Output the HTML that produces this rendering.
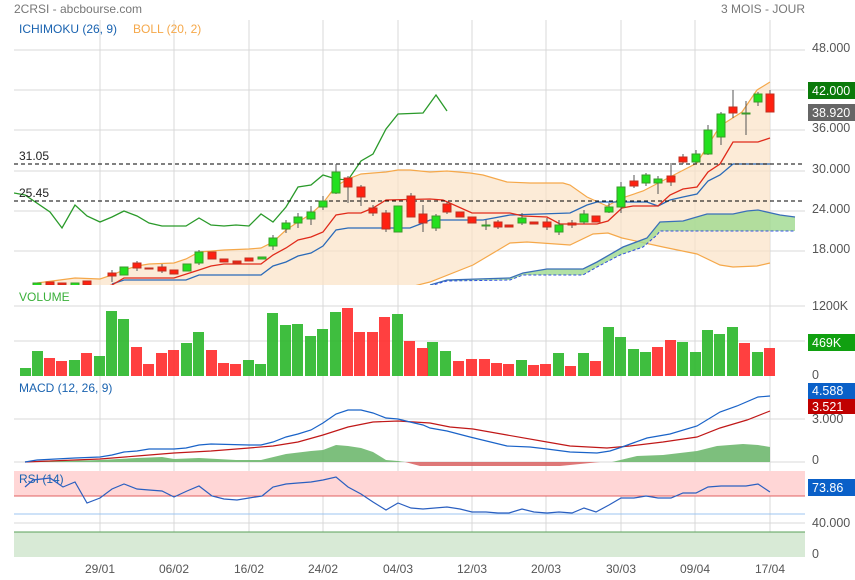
<!DOCTYPE html>
<html><head><meta charset="utf-8"><style>
body{margin:0;background:#fff;}
svg{display:block;font-family:"Liberation Sans",Arial,sans-serif;}
</style></head><body>
<svg width="855" height="580" viewBox="0 0 855 580" xmlns="http://www.w3.org/2000/svg">
<defs>
<clipPath id="cm"><rect x="14" y="20" width="792" height="265"/></clipPath>
</defs>
<rect width="855" height="580" fill="#fff"/>
<text x="14" y="13" font-size="12" fill="#777">2CRSI - abcbourse.com</text>
<text x="805" y="13" font-size="12" fill="#777" text-anchor="end">3 MOIS - JOUR</text>

<!-- grid -->
<g stroke="#d8d8d8" stroke-width="1">
<line x1="14" y1="50" x2="805" y2="50"/><line x1="14" y1="90" x2="805" y2="90"/><line x1="14" y1="130" x2="805" y2="130"/><line x1="14" y1="171" x2="805" y2="171"/><line x1="14" y1="211" x2="805" y2="211"/><line x1="14" y1="251" x2="805" y2="251"/>
<line x1="14" y1="306" x2="805" y2="306"/><line x1="14" y1="341" x2="805" y2="341"/>
<line x1="14" y1="419" x2="805" y2="419"/><line x1="14" y1="462" x2="805" y2="462"/>
<line x1="14" y1="488" x2="805" y2="488"/><line x1="14" y1="523" x2="805" y2="523"/>
<line x1="100" y1="20" x2="100" y2="557"/><line x1="174" y1="20" x2="174" y2="557"/><line x1="249" y1="20" x2="249" y2="557"/><line x1="323" y1="20" x2="323" y2="557"/><line x1="398" y1="20" x2="398" y2="557"/><line x1="472" y1="20" x2="472" y2="557"/><line x1="546" y1="20" x2="546" y2="557"/><line x1="621" y1="20" x2="621" y2="557"/><line x1="695" y1="20" x2="695" y2="557"/><line x1="770" y1="20" x2="770" y2="557"/>
</g>

<g clip-path="url(#cm)">
<!-- bollinger fill -->
<polygon fill="#fbe3c6" fill-opacity="0.7" points="37,283 75,278 100,279 112,275 124,270 137,266 149,264 174,263 186,259 199,252 224,250 249,249 261,248 273,242 286,230 298,222 311,214 323,203 336,186 348,179 361,174 373,173 386,172 398,170 410,170 430,172 447,171 470,173 483,175 507,182 530,183 563,183 570,185 587,197 607,206 622,198 643,191 670,177 697,163 720,126 742,112 757,90 770,82 770,263 757,266 733,267 720,265 697,254 663,247 622,238 608,233 593,234 570,245 527,242 510,243 473,265 430,282 410,287 37,287"/>
<polyline fill="none" stroke="#f5a84a" stroke-width="1.2" points="37,283 75,278 100,279 112,275 124,270 137,266 149,264 174,263 186,259 199,252 224,250 249,249 261,248 273,242 286,230 298,222 311,214 323,203 336,186 348,179 361,174 373,173 386,172 398,170 410,170 430,172 447,171 470,173 483,175 507,182 530,183 563,183 570,185 587,197 607,206 622,198 643,191 670,177 697,163 720,126 742,112 757,90 770,82"/>
<polyline fill="none" stroke="#f5a84a" stroke-width="1.2" points="410,287 430,282 473,265 510,243 527,242 570,245 593,234 608,233 622,238 663,247 697,254 720,265 733,267 757,266 770,263"/>
<!-- cloud -->
<polygon fill="#9fd98f" fill-opacity="0.8" points="430,285 447,280 510,278 523,273 547,269 583,269 597,262 623,247 647,238 660,222 683,221 707,214 733,214 747,211 758,210 780,215 795,217 795,231 660,231 657,235 643,247 620,255 597,267 583,275 523,275 510,280 447,281"/>
<polyline fill="none" stroke="#3a6fb8" stroke-width="1.3" points="430,285 447,280 510,278 523,273 547,269 583,269 597,262 623,247 647,238 660,222 683,221 707,214 733,214 747,211 758,210 780,215 795,217"/>
<polyline fill="none" stroke="#3050e0" stroke-width="1" stroke-dasharray="3,2" points="430,286 447,281 510,280 523,275 583,275 597,267 620,255 643,247 657,235 660,231 795,231"/>
<!-- kijun blue -->
<polyline fill="none" stroke="#2a6ab8" stroke-width="1.3" points="112,284 124,280 186,280 199,275 261,275 273,266 286,262 298,256 311,253 323,246 336,230 348,228 410,228 423,223 430,220 483,220 510,215 570,213 587,205 597,202 647,202 658,206 670,200 683,197 697,194 708,181 720,175 733,164 770,164"/>
<!-- tenkan red -->
<polyline fill="none" stroke="#e02a1a" stroke-width="1.3" points="105,287 112,285 124,278 174,278 199,270 211,266 224,264 261,264 273,255 286,248 298,240 311,237 323,232 336,215 348,213 361,213 373,208 386,200 430,199 443,200 472,213 510,213 523,216 547,217 560,224 597,224 608,221 622,208 633,206 658,206 670,195 683,189 697,187 708,172 720,164 733,142 758,142 770,138"/>
<!-- chikou -->
<polyline fill="none" stroke="#2a9a2a" stroke-width="1.3" points="14,193 25,195 50,212 62,228 75,205 87,216 100,222 112,217 124,211 137,216 149,223 162,226 186,226 199,218 211,225 224,226 236,225 249,226 261,214 273,222 286,207 298,187 311,185 323,175 336,179 348,180 361,161 373,154 386,129 398,114 423,113 436,95 447,111"/>
<!-- dashed levels -->
<line x1="14" y1="164" x2="805" y2="164" stroke="#000" stroke-dasharray="4,3"/>
<line x1="14" y1="201" x2="805" y2="201" stroke="#000" stroke-dasharray="4,3"/>
<!-- candles -->
<g stroke-width="1">
<g stroke="#555">
<line x1="112" y1="270" x2="112" y2="282"/><line x1="137" y1="261" x2="137" y2="271"/><line x1="162" y1="264" x2="162" y2="273"/><line x1="199" y1="250" x2="199" y2="265"/><line x1="273" y1="235" x2="273" y2="250"/><line x1="286" y1="220" x2="286" y2="233"/><line x1="298" y1="213" x2="298" y2="228"/><line x1="311" y1="206" x2="311" y2="225"/><line x1="323" y1="196" x2="323" y2="210"/><line x1="336" y1="164" x2="336" y2="194"/><line x1="348" y1="176" x2="348" y2="203"/><line x1="361" y1="185" x2="361" y2="206"/><line x1="373" y1="205" x2="373" y2="216"/><line x1="386" y1="210" x2="386" y2="232"/><line x1="411" y1="193" x2="411" y2="217"/><line x1="423" y1="205" x2="423" y2="232"/><line x1="436" y1="214" x2="436" y2="231"/><line x1="447" y1="202" x2="447" y2="214"/><line x1="486" y1="220" x2="486" y2="230"/><line x1="498" y1="220" x2="498" y2="229"/><line x1="522" y1="213" x2="522" y2="225"/><line x1="547" y1="218" x2="547" y2="230"/><line x1="559" y1="220" x2="559" y2="235"/><line x1="572" y1="220" x2="572" y2="228"/><line x1="584" y1="210" x2="584" y2="224"/><line x1="609" y1="203" x2="609" y2="213"/><line x1="621" y1="182" x2="621" y2="213"/><line x1="634" y1="175" x2="634" y2="188"/><line x1="646" y1="173" x2="646" y2="186"/><line x1="658" y1="176" x2="658" y2="194"/><line x1="671" y1="163" x2="671" y2="186"/><line x1="683" y1="154" x2="683" y2="164"/><line x1="696" y1="150" x2="696" y2="164"/><line x1="708" y1="125" x2="708" y2="155"/><line x1="721" y1="112" x2="721" y2="145"/><line x1="733" y1="90" x2="733" y2="118"/><line x1="746" y1="101" x2="746" y2="135"/><line x1="758" y1="92" x2="758" y2="106"/><line x1="770" y1="90" x2="770" y2="112"/>
</g>
<g fill="#22e01e" stroke="#3a9a2a">
<rect x="33" y="283" width="8" height="3"/><rect x="71" y="283" width="8" height="3"/><rect x="120" y="267" width="8" height="8"/><rect x="183" y="264" width="8" height="7"/><rect x="195" y="252" width="8" height="11"/><rect x="258" y="257" width="8" height="2"/><rect x="269" y="238" width="8" height="8"/><rect x="282" y="223" width="8" height="6"/><rect x="294" y="217" width="8" height="6"/><rect x="307" y="212" width="8" height="7"/><rect x="319" y="201" width="8" height="6"/><rect x="332" y="172" width="8" height="21"/><rect x="394" y="206" width="8" height="26"/><rect x="432" y="216" width="8" height="12"/><rect x="482" y="225" width="8" height="1"/><rect x="518" y="218" width="8" height="5"/><rect x="555" y="225" width="8" height="7"/><rect x="580" y="214" width="8" height="8"/><rect x="605" y="207" width="8" height="5"/><rect x="617" y="187" width="8" height="20"/><rect x="642" y="175" width="8" height="8"/><rect x="654" y="179" width="8" height="4"/><rect x="692" y="154" width="8" height="8"/><rect x="704" y="130" width="8" height="24"/><rect x="717" y="114" width="8" height="23"/><rect x="742" y="113" width="8" height="1"/><rect x="754" y="94" width="8" height="8"/>
</g>
<g fill="#ff2010" stroke="#c03020">
<rect x="46" y="282" width="8" height="3"/><rect x="58" y="283" width="8" height="2"/><rect x="83" y="281" width="8" height="4"/><rect x="108" y="273" width="8" height="3"/><rect x="133" y="263" width="8" height="5"/><rect x="145" y="268" width="8" height="1"/><rect x="158" y="267" width="8" height="4"/><rect x="170" y="270" width="8" height="4"/><rect x="208" y="252" width="8" height="7"/><rect x="220" y="259" width="8" height="3"/><rect x="233" y="261" width="8" height="2"/><rect x="245" y="258" width="8" height="3"/><rect x="344" y="178" width="8" height="9"/><rect x="357" y="187" width="8" height="10"/><rect x="369" y="208" width="8" height="5"/><rect x="382" y="213" width="8" height="16"/><rect x="407" y="196" width="8" height="21"/><rect x="419" y="214" width="8" height="9"/><rect x="443" y="204" width="8" height="8"/><rect x="456" y="212" width="8" height="5"/><rect x="468" y="217" width="8" height="6"/><rect x="494" y="222" width="8" height="5"/><rect x="505" y="225" width="8" height="2"/><rect x="530" y="222" width="8" height="2"/><rect x="543" y="222" width="8" height="5"/><rect x="568" y="223" width="8" height="2"/><rect x="592" y="216" width="8" height="6"/><rect x="630" y="181" width="8" height="5"/><rect x="667" y="176" width="8" height="6"/><rect x="679" y="157" width="8" height="5"/><rect x="729" y="107" width="8" height="6"/><rect x="766" y="94" width="8" height="18"/>
</g>
</g>
</g>
<text x="19" y="160" font-size="12" fill="#222">31.05</text>
<text x="19" y="197" font-size="12" fill="#222">25.45</text>
<text x="19" y="33" font-size="12" fill="#1a63b0">ICHIMOKU (26, 9)</text>
<text x="133" y="33" font-size="12" fill="#f5a84a">BOLL (20, 2)</text>

<!-- price axis -->
<g font-size="12.5" fill="#555">
<text x="812" y="52">48.000</text><text x="812" y="132">36.000</text><text x="812" y="173">30.000</text><text x="812" y="213">24.000</text><text x="812" y="253">18.000</text>
</g>
<rect x="808" y="82" width="47" height="17" fill="#0a7a0a"/><text x="812" y="95" font-size="12.5" fill="#fff">42.000</text>
<rect x="808" y="104" width="47" height="17" fill="#666"/><text x="812" y="117" font-size="12.5" fill="#fff">38.920</text>

<!-- volume -->
<text x="19" y="301" font-size="12" fill="#3ab03a">VOLUME</text>
<g fill="#2fb82f" fill-opacity="0.92">
<rect x="20" y="368" width="11" height="8"/><rect x="32" y="351" width="11" height="25"/><rect x="69" y="360" width="11" height="16"/><rect x="94" y="356" width="11" height="20"/><rect x="106" y="311" width="11" height="65"/><rect x="118" y="319" width="11" height="57"/><rect x="181" y="343" width="11" height="33"/><rect x="193" y="332" width="11" height="44"/><rect x="243" y="360" width="11" height="16"/><rect x="255" y="364" width="11" height="12"/><rect x="267" y="313" width="11" height="63"/><rect x="280" y="325" width="11" height="51"/><rect x="292" y="324" width="11" height="52"/><rect x="305" y="336" width="11" height="40"/><rect x="317" y="329" width="11" height="47"/><rect x="330" y="312" width="11" height="64"/><rect x="392" y="314" width="11" height="62"/><rect x="427" y="342" width="11" height="34"/><rect x="440" y="351" width="11" height="25"/><rect x="516" y="360" width="11" height="16"/><rect x="553" y="353" width="11" height="23"/><rect x="578" y="353" width="11" height="23"/><rect x="603" y="327" width="11" height="49"/><rect x="615" y="337" width="11" height="39"/><rect x="628" y="349" width="11" height="27"/><rect x="640" y="352" width="11" height="24"/><rect x="677" y="342" width="11" height="34"/><rect x="690" y="352" width="11" height="24"/><rect x="702" y="330" width="11" height="46"/><rect x="714" y="334" width="11" height="42"/><rect x="727" y="327" width="11" height="49"/><rect x="752" y="352" width="11" height="24"/>
</g>
<g fill="#ff3030" fill-opacity="0.92">
<rect x="44" y="358" width="11" height="18"/><rect x="56" y="361" width="11" height="15"/><rect x="81" y="353" width="11" height="23"/><rect x="131" y="347" width="11" height="29"/><rect x="143" y="364" width="11" height="12"/><rect x="156" y="353" width="11" height="23"/><rect x="168" y="350" width="11" height="26"/><rect x="206" y="350" width="11" height="26"/><rect x="218" y="363" width="11" height="13"/><rect x="230" y="364" width="11" height="12"/><rect x="342" y="308" width="11" height="68"/><rect x="354" y="332" width="11" height="44"/><rect x="367" y="332" width="11" height="44"/><rect x="379" y="317" width="11" height="59"/><rect x="404" y="341" width="11" height="35"/><rect x="417" y="348" width="11" height="28"/><rect x="453" y="361" width="11" height="15"/><rect x="466" y="359" width="11" height="17"/><rect x="479" y="359" width="11" height="17"/><rect x="491" y="363" width="11" height="13"/><rect x="503" y="364" width="11" height="12"/><rect x="528" y="365" width="11" height="11"/><rect x="540" y="364" width="11" height="12"/><rect x="565" y="366" width="11" height="10"/><rect x="590" y="361" width="11" height="15"/><rect x="652" y="347" width="11" height="29"/><rect x="665" y="340" width="11" height="36"/><rect x="739" y="343" width="11" height="33"/><rect x="764" y="348" width="11" height="28"/>
</g>
<g font-size="12.5" fill="#555"><text x="812" y="310">1200K</text><text x="812" y="379">0</text></g>
<rect x="808" y="334" width="47" height="17" fill="#10a010"/><text x="812" y="347" font-size="12.5" fill="#fff">469K</text>

<!-- MACD -->
<text x="19" y="392" font-size="12" fill="#1a63b0">MACD (12, 26, 9)</text>
<polygon fill="#6fb86f" fill-opacity="0.9" points="25,462 100,460 137,458 162,457 174,459 199,458 236,460 261,460 286,454 311,451 323,450 336,445 348,446 361,448 373,452 386,460 398,461 405,462"/>
<polygon fill="#d86060" fill-opacity="0.85" points="405,462 420,466 560,466 600,462"/>
<polygon fill="#6fb86f" fill-opacity="0.9" points="612,462 637,456 663,455 697,451 717,446 743,444 758,445 770,447 770,462"/>
<polyline fill="none" stroke="#c01818" stroke-width="1.2" points="25,462 100,459 137,456 174,453 211,451 249,448 273,446 298,442 323,435 348,427 373,422 398,421 430,423 450,427 473,429 507,435 547,442 570,446 607,448 630,446 663,442 697,437 720,428 747,420 770,411"/>
<polyline fill="none" stroke="#1a63c8" stroke-width="1.2" points="25,462 37,460 75,458 100,457 112,455 124,452 137,451 149,449 174,449 186,448 199,445 211,444 249,445 261,445 273,442 286,437 298,434 311,430 323,423 336,414 348,410 361,410 373,413 386,418 398,419 410,422 423,425 430,428 447,431 470,437 507,446 530,447 547,449 570,452 597,453 610,451 622,447 633,443 647,438 670,434 697,426 720,412 737,406 758,397 770,396"/>
<g font-size="12.5" fill="#555"><text x="812" y="423">3.000</text><text x="812" y="464">0</text></g>
<rect x="808" y="383" width="47" height="16" fill="#0a60c8"/><text x="812" y="395" font-size="12.5" fill="#fff">4.588</text>
<rect x="808" y="399" width="47" height="15" fill="#c00000"/><text x="812" y="411" font-size="12.5" fill="#fff">3.521</text>

<!-- RSI -->
<rect x="14" y="471" width="791" height="25" fill="#ffd6d6"/>
<line x1="14" y1="496" x2="805" y2="496" stroke="#e06060"/>
<line x1="14" y1="514" x2="805" y2="514" stroke="#9cc4f0"/>
<rect x="14" y="532" width="791" height="25" fill="#d8ead6"/>
<line x1="14" y1="532" x2="805" y2="532" stroke="#5aa05a"/>
<text x="19" y="483" font-size="12" fill="#1a63b0">RSI (14)</text>
<polyline fill="none" stroke="#2a5fc0" stroke-width="1.2" points="25,487 33,480 50,478 63,487 75,482 87,503 100,498 112,489 124,484 137,489 149,490 162,491 174,497 187,491 199,486 212,496 224,499 237,500 249,498 262,496 273,487 286,484 298,483 311,482 323,480 336,477 348,487 361,494 373,502 386,510 398,503 411,508 423,509 447,507 460,509 472,512 486,512 498,513 509,513 522,509 534,512 547,513 559,512 572,513 584,508 596,512 609,505 621,498 634,498 646,496 658,498 671,498 683,493 696,493 708,487 721,486 746,486 758,484 770,492"/>
<g font-size="12.5" fill="#555"><text x="812" y="527">40.000</text><text x="812" y="558">0</text></g>
<rect x="808" y="479" width="47" height="17" fill="#0a60c8"/><text x="812" y="492" font-size="12.5" fill="#fff">73.86</text>

<!-- dates -->
<g font-size="12" fill="#555" text-anchor="middle">
<text x="100" y="573">29/01</text><text x="174" y="573">06/02</text><text x="249" y="573">16/02</text><text x="323" y="573">24/02</text><text x="398" y="573">04/03</text><text x="472" y="573">12/03</text><text x="546" y="573">20/03</text><text x="621" y="573">30/03</text><text x="695" y="573">09/04</text><text x="770" y="573">17/04</text>
</g>
</svg>
</body></html>
